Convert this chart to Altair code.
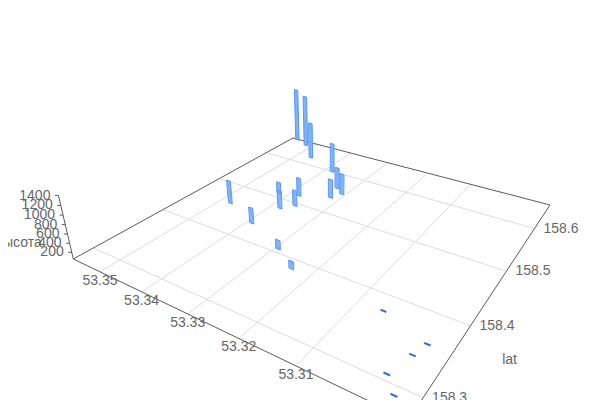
import numpy as np
import pandas as pd
import altair as alt

# values
lon_values = [53.3553, 53.3516, 53.3464, 53.3382, 53.333, 53.3308, 53.3319, 53.3378, 53.336, 53.342,
              53.3379, 53.3475, 53.3389, 53.3293, 53.3238, 53.3056, 53.2969, 53.2977, 53.299, 53.2965]
lat_values = [158.664, 158.654, 158.621, 158.599, 158.561, 158.551, 158.535, 158.518, 158.494, 158.51,
              158.479, 158.456, 158.433, 158.406, 158.384, 158.376, 158.357, 158.338, 158.307, 158.29]
height_values = [1468, 1409, 990, 791, 577, 555, 511, 496, 430, 323,
                 481, 607, 421, 262, 226, 50, 50, 50, 50, 50]
lon_ticks = [53.35, 53.34, 53.33, 53.32, 53.31]
lat_ticks = [158.3, 158.4, 158.5, 158.6]
height_ticks = [200, 400, 600, 800, 1000, 1200, 1400]

LON_MAX, LON_MIN = 53.35693, 53.29320
LAT_MIN, LAT_MAX = 158.27456, 158.66634
H_MIN, H_MAX = 50, 1400

# camera of the 3D scene: floor homography and vertical vanishing point
CAM = np.array([[215.818083, 355.999279, 73.3],
                [38.25727, -56.804435, 259.0],
                [-0.292245, 0.465185, 1.0]])
VANISH = (330.0, 1356.0)
ALPHA = -4.05e-5


def project(lon, lat, h=H_MIN):
    u = (LON_MAX - lon) / (LON_MAX - LON_MIN)
    v = (lat - LAT_MIN) / (LAT_MAX - LAT_MIN)
    X, Y, W = CAM @ np.array([u, v, 1.0])
    s = ALPHA * (h - H_MIN)
    return (X + s * VANISH[0]) / (W + s), (Y + s * VANISH[1]) / (W + s)


def seg(a, b):
    x, y = project(*a)
    x2, y2 = project(*b)
    return dict(x=x, y=y, x2=x2, y2=y2)


X_SCALE = alt.Scale(domain=[8, 592], range=[0, 584], nice=False, zero=False)
Y_SCALE = alt.Scale(domain=[8, 400], range=[0, 392], nice=False, zero=False)


def rules(rows, color, width, opacity=1.0):
    return alt.Chart(pd.DataFrame(rows)).mark_rule(
        color=color, strokeWidth=width, opacity=opacity
    ).encode(
        x=alt.X("x:Q", scale=X_SCALE, axis=None),
        y=alt.Y("y:Q", scale=Y_SCALE, axis=None),
        x2="x2:Q",
        y2="y2:Q",
    )


def texts(rows, align, dx=0, dy=0, size=14):
    return alt.Chart(pd.DataFrame(rows)).mark_text(
        font="Liberation Sans", fontSize=size, color="#666666", align=align,
        baseline="middle", dx=dx, dy=dy
    ).encode(
        x=alt.X("x:Q", scale=X_SCALE, axis=None),
        y=alt.Y("y:Q", scale=Y_SCALE, axis=None),
        text="label:N",
    )


grid = [seg((l, LAT_MIN), (l, LAT_MAX)) for l in lon_ticks] + \
       [seg((LON_MAX, l), (LON_MIN, l)) for l in lat_ticks]
frame = [seg((LON_MAX, LAT_MIN), (LON_MIN, LAT_MIN)),
         seg((LON_MIN, LAT_MIN), (LON_MIN, LAT_MAX)),
         seg((LON_MIN, LAT_MAX), (LON_MAX, LAT_MAX)),
         seg((LON_MAX, LAT_MAX), (LON_MAX, LAT_MIN)),
         seg((LON_MAX, LAT_MIN, H_MIN), (LON_MAX, LAT_MIN, H_MAX))]
ticks = []
for h in height_ticks:
    x, y = project(LON_MAX, LAT_MIN, h)
    ticks.append(dict(x=x, y=y, x2=x - 3.5, y2=y))

HALF = 0.0005
fill_rows, edge_rows, cap_rows, flat_rows = [], [], [], []
for lo, la, h in zip(lon_values, lat_values, height_values):
    a, b = lo - HALF, lo + HALF
    if h <= H_MIN:
        flat_rows.append(seg((a, la), (b, la)))
        continue
    for t in (-0.6, -0.2, 0.2, 0.6):
        fill_rows.append(seg((lo + t * HALF, la), (lo + t * HALF, la, h)))
    edge_rows.append(seg((a, la), (a, la, h)))
    edge_rows.append(seg((b, la), (b, la, h)))
    cap_rows.append(seg((a, la, h), (b, la, h)))
    cap_rows.append(seg((a, la), (b, la)))

lon_text = []
for l in lon_ticks:
    x, y = project(l, LAT_MIN)
    lon_text.append(dict(x=x, y=y, label=f"{l:.2f}"))
lat_text = []
for l in lat_ticks:
    x, y = project(LON_MIN, l)
    lat_text.append(dict(x=x, y=y, label=f"{l:.1f}"))
h_text = []
for h in height_ticks:
    x, y = project(LON_MAX, LAT_MIN, h)
    h_text.append(dict(x=x, y=y, label=str(h)))
lat_name = project(LON_MIN, 158.4)
lat_title = [dict(x=lat_name[0], y=lat_name[1], label="lat")]
h_name = project(LON_MAX, LAT_MIN, 400)
h_title = [dict(x=h_name[0], y=h_name[1], label="высота")]

chart = alt.layer(
    rules(grid, "#dcdcdc", 1),
    rules(frame, "#5a5a5a", 1),
    rules(ticks, "#5a5a5a", 1),
    rules(fill_rows, "#7ab2fa", 1.2),
    rules(edge_rows, "#5a97f2", 1),
    rules(cap_rows, "#5a97f2", 1),
    rules(flat_rows, "#2f6fe0", 2),
    texts(lon_text, "center", dy=9),
    texts(lat_text, "left", dx=9),
    texts(h_text, "right", dx=-8),
    texts(lat_title, "center", dx=39, dy=34),
    texts(h_title, "center", dx=-51),
).properties(
    width=584, height=392, padding=0,
    autosize=alt.AutoSizeParams(type="none"),
).configure_view(stroke=None)

chart.save("out.html", embed_options={"renderer": "svg", "actions": False})
